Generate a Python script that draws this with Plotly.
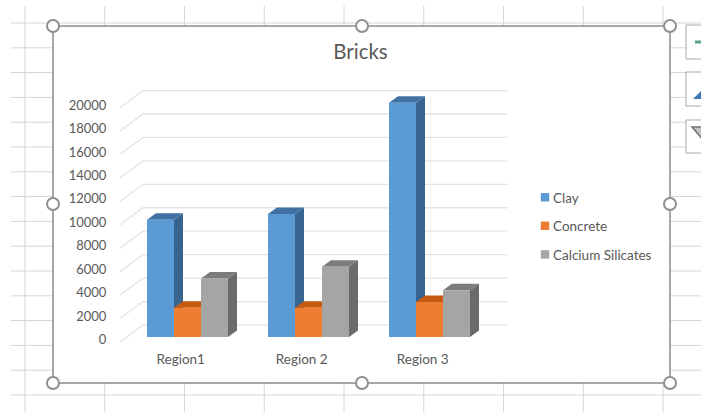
import plotly.graph_objects as go

# ---- data ----
categories = ["Region1", "Region 2", "Region 3"]
clay = [10000, 10500, 20000]
concrete = [2500, 2500, 3000]
calcium_silicates = [5000, 6000, 4000]
y_ticks = list(range(0, 20001, 2000))
series_names = ["Clay", "Concrete", "Calcium Silicates"]

W, H = 701, 412
FONT = "Lato"
TXT = "#595959"

# ---- pixel geometry of the plot -----
X0_PX, X_STEP = 180.7, 121.0       # pixel of category 0, pixels per category
Y0_PX, Y_STEP = 339.5, 11.72 / 1000  # pixel of value 0, pixels per value unit
L, R, T, B = 115, 512, 85, 345     # plot box in pixels
xr = [(L - X0_PX) / X_STEP, (R - X0_PX) / X_STEP]
yr = [(Y0_PX - B) / Y_STEP, (Y0_PX - T) / Y_STEP]

# 3D look expressed in axis units
WALL_X0, WALL_X1 = (120 - X0_PX) / X_STEP, (143 - X0_PX) / X_STEP
WALL_END = (507 - X0_PX) / X_STEP
FRONT_DY, BACK_DY = -210, 1240
BAR_W = 27 / X_STEP
BAR_BASE = 210
GROUP_SHIFT = 6.8 / X_STEP
DEPTH_X, DEPTH_Y = 9 / X_STEP, 6.5 / Y_STEP

front = ["#5B9BD5", "#ED7D31", "#A5A5A5"]
side = ["#37658F", "#B35E24", "#6B6B6B"]
top = ["#3F72A3", "#C55A11", "#7C7C7C"]

fig = go.Figure()

# wall gridlines
gx, gy = [], []
for v in y_ticks:
    gx += [WALL_X0, WALL_X1, WALL_END, None]
    gy += [v + FRONT_DY, v + BACK_DY, v + BACK_DY, None]
fig.add_trace(go.Scatter(x=gx, y=gy, mode="lines", line=dict(color="#E3E3E3", width=1.3),
                         showlegend=False, hoverinfo="skip", xaxis="x", yaxis="y"))

# side and top faces of each bar
all_series = [clay, concrete, calcium_silicates]
for s, vals in enumerate(all_series):
    off = (s - 1.5) * BAR_W + GROUP_SHIFT
    for i, v in enumerate(vals):
        x1 = i + off + BAR_W
        x0 = i + off
        yb, yt = BAR_BASE, BAR_BASE + v
        fig.add_trace(go.Scatter(
            x=[x1, x1 + DEPTH_X, x1 + DEPTH_X, x1, x1],
            y=[yb, yb + DEPTH_Y, yt + DEPTH_Y, yt, yb],
            mode="lines", fill="toself", fillcolor=side[s], line=dict(width=0),
            showlegend=False, hoverinfo="skip", xaxis="x", yaxis="y"))
        fig.add_trace(go.Scatter(
            x=[x0, x1, x1 + DEPTH_X, x0 + DEPTH_X, x0],
            y=[yt, yt, yt + DEPTH_Y, yt + DEPTH_Y, yt],
            mode="lines", fill="toself", fillcolor=top[s], line=dict(width=0),
            showlegend=False, hoverinfo="skip", xaxis="x", yaxis="y"))

# front faces: real bars on an overlaying axis pair so they sit above the faces
for s, vals in enumerate(all_series):
    fig.add_trace(go.Bar(
        x=[0, 1, 2], y=vals, base=BAR_BASE, name=series_names[s], width=BAR_W,
        offset=(s - 1.5) * BAR_W + GROUP_SHIFT, marker=dict(color=front[s], line=dict(width=0)),
        legendgroup=series_names[s], xaxis="x2", yaxis="y2"))


def px(x):
    return x / W


def py(y):
    return 1 - y / H


shapes = []
GRID = "#D6D6D6"
# spreadsheet grid
for k in range(9):
    x = 25 + k * 79.75
    shapes.append(dict(type="line", xref="paper", yref="paper", x0=px(x), x1=px(x), y0=py(6), y1=py(412),
                       line=dict(color=GRID, width=1), layer="below"))
for k in range(16):
    y = 23 + k * 24.8
    shapes.append(dict(type="line", xref="paper", yref="paper", x0=px(11), x1=px(701), y0=py(y), y1=py(y),
                       line=dict(color=GRID, width=1), layer="below"))
# chart area
shapes.append(dict(type="rect", xref="paper", yref="paper", x0=px(53), x1=px(670), y0=py(383), y1=py(26),
                   fillcolor="white", line=dict(color="#8C8C8C", width=1.5), layer="below"))
# resize handles
for hx, hy in [(53, 26), (362, 26), (670, 26), (53, 204), (670, 204), (53, 383), (362, 383), (670, 383)]:
    shapes.append(dict(type="circle", xref="paper", yref="paper", x0=px(hx - 6), x1=px(hx + 6),
                       y0=py(hy + 6), y1=py(hy - 6), fillcolor="white",
                       line=dict(color="#8F8F8F", width=2), layer="above"))
# side buttons
for y0, y1 in [(25, 59), (72, 106), (120, 153)]:
    shapes.append(dict(type="rect", xref="paper", yref="paper", x0=px(686), x1=px(703), y0=py(y1), y1=py(y0),
                       fillcolor="white", line=dict(color="#A8A8A8", width=1), layer="above"))
shapes.append(dict(type="rect", xref="paper", yref="paper", x0=px(695), x1=px(703), y0=py(43.5), y1=py(40.5),
                   fillcolor="#5FA088", line=dict(width=0), layer="above"))
shapes.append(dict(type="path", xref="paper", yref="paper",
                   path=f"M {px(693)} {py(99)} L {px(703)} {py(99)} L {px(703)} {py(89)} Z",
                   fillcolor="#3F78B5", line=dict(width=0), layer="above"))
shapes.append(dict(type="path", xref="paper", yref="paper",
                   path=f"M {px(692)} {py(127)} L {px(703)} {py(127)} L {px(703)} {py(140)} Z",
                   fillcolor="#C4C4C4", line=dict(color="#707070", width=1.5), layer="above"))

axis_common = dict(showgrid=False, zeroline=False, showline=False, automargin=False)
fig.update_layout(
    width=W, height=H, margin=dict(l=0, r=0, t=0, b=0, pad=0),
    paper_bgcolor="white", plot_bgcolor="rgba(0,0,0,0)",
    font=dict(family=FONT, size=13, color=TXT),
    barmode="overlay", shapes=shapes,
    title=dict(text="Bricks", x=360.5 / W, xanchor="center", y=1 - 52 / H, yanchor="middle",
               font=dict(family=FONT, size=20.5, color=TXT)),
    xaxis=dict(domain=[L / W, R / W], range=xr, tickmode="array", tickvals=[0, 1, 2], ticktext=categories,
               ticks="outside", ticklen=2, tickcolor="rgba(0,0,0,0)", tickfont=dict(size=13.5), **axis_common),
    yaxis=dict(domain=[1 - B / H, 1 - T / H], range=yr, tickmode="array", tickvals=y_ticks, tickformat="d",
               ticks="outside", ticklen=5, tickcolor="rgba(0,0,0,0)", **axis_common),
    xaxis2=dict(overlaying="x", range=xr, visible=False),
    yaxis2=dict(overlaying="y", range=yr, visible=False),
    legend=dict(x=513 / W, xanchor="left", y=1 - 182 / H, yanchor="top", bgcolor="rgba(0,0,0,0)",
                tracegroupgap=8, font=dict(family=FONT, size=13.5, color=TXT)),
    hovermode=False,
)

post = """
document.documentElement.style.margin='0';document.body.style.margin='0';
setTimeout(function(){
  document.querySelectorAll('.legend .legendpoints path').forEach(function(p){
    p.setAttribute('transform','translate(32,0) scale(0.7)');
  });
},0);
"""
fig.write_html("out.html", post_script=post, config={"displayModeBar": False})
